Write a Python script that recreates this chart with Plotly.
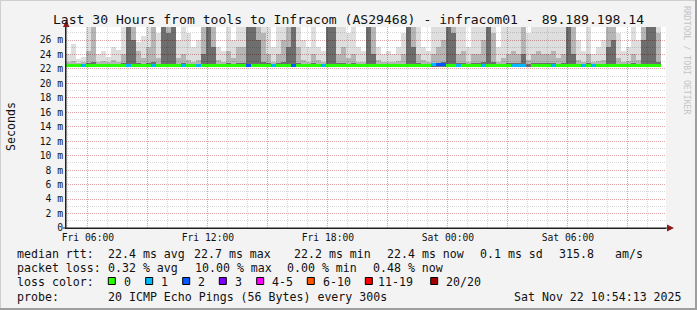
import pandas as pd
import plotly.graph_objects as go

# ---------------- data ----------------
start_time = "2025-11-21 04:54:13"
end_time = "2025-11-22 10:54:13"
step_minutes = 15

# smoke: top of light / medium / dark shade per 15-min column (ms)
smoke_hi = [
    24.0, 25.5, 23.4, 23.6, 30, 30, 24.1, 24.5, 23.6, 25.0,
    24.6, 30, 30, 30, 25.7, 26.5, 30, 30, 27.0, 30,
    30, 30, 26.0, 30, 27.0, 25.0, 26.0, 30, 30, 30,
    25.0, 24.5, 30, 26.0, 30, 28.0, 30, 30, 30, 30,
    30, 25.0, 30, 30, 30, 30, 30, 26.0, 25.0, 30,
    25.0, 24.5, 30, 30, 30, 30, 27.0, 30, 25.0, 24.5,
    30, 30, 25.0, 24.0, 24.5, 24.0, 25.0, 27.0, 30, 30,
    30, 25.0, 24.5, 30, 30, 30, 30, 30, 30, 30,
    25.0, 30, 30, 30, 30, 30, 25.0, 28.0, 30, 30,
    30, 30, 27.0, 30, 30, 30, 30, 30, 28.0, 30,
    30, 30, 26.0, 24.5, 30, 24.0, 25.0, 26.0, 30, 30,
    27.0, 24.5, 25.0, 30, 26.0, 30, 30, 30, 30, None,
]
smoke_mid = [
    22.9, 23.1, 22.8, 22.9, 24.5, 30, 23.0, 23.1, 22.9, 23.3,
    23.0, 24.0, 30, 30, 24.5, 23.5, 25.0, 28.0, 23.5, 30,
    30, 30, 23.5, 24.0, 23.2, 23.0, 23.3, 30, 30, 30,
    23.2, 23.0, 24.5, 23.5, 25.0, 25.0, 30, 30, 30, 27.0,
    24.0, 23.0, 24.0, 26.0, 30, 30, 25.0, 23.3, 23.0, 24.0,
    23.2, 23.0, 30, 30, 24.0, 25.0, 23.5, 24.0, 23.0, 23.0,
    30, 30, 23.2, 22.9, 23.0, 22.9, 23.1, 24.0, 30, 30,
    24.0, 23.2, 23.0, 24.0, 25.0, 26.0, 30, 30, 24.0, 24.5,
    23.0, 24.0, 24.0, 26.0, 30, 27.0, 23.0, 23.5, 24.0, 24.5,
    24.0, 30, 23.2, 24.0, 24.5, 24.0, 24.0, 24.5, 23.5, 24.0,
    30, 30, 23.3, 23.0, 24.0, 22.9, 23.1, 23.3, 30, 30,
    23.5, 23.0, 23.1, 24.0, 23.3, 30, 30, 30, 27.0, None,
]
smoke_dark = [
    22.6, 22.6, 22.6, 22.6, 22.8, 23.0, 22.6, 22.7, 22.6, 22.7,
    22.6, 22.8, 30, 26.0, 22.8, 22.7, 22.8, 23.0, 22.7, 30,
    27.0, 30, 22.7, 22.8, 22.6, 22.6, 22.7, 24.0, 30, 25.0,
    22.7, 22.6, 22.8, 22.7, 22.8, 22.8, 30, 30, 26.0, 23.0,
    22.8, 22.6, 22.8, 22.9, 25.0, 30, 22.8, 22.7, 22.6, 22.8,
    22.7, 22.6, 30, 30, 22.8, 22.8, 22.7, 22.8, 22.6, 22.6,
    30, 24.0, 22.7, 22.6, 22.6, 22.6, 22.6, 22.7, 30, 25.0,
    22.8, 22.7, 22.6, 22.8, 22.8, 22.9, 30, 27.0, 22.8, 22.8,
    22.6, 22.8, 22.8, 22.9, 30, 23.0, 22.6, 22.7, 22.8, 22.8,
    22.8, 24.0, 22.7, 22.8, 22.8, 22.8, 22.8, 22.8, 22.7, 22.8,
    30, 24.0, 22.7, 22.6, 22.8, 22.6, 22.6, 22.7, 25.0, 26.0,
    22.7, 22.6, 22.6, 22.8, 22.7, 26.0, 30, 30, 23.0, None,
]
median_rtt = [
    22.4, 22.4, 22.45, 22.4, 22.4, 22.35, 22.4, 22.4, 22.45, 22.4,
    22.4, 22.4, 22.45, 22.4, 22.4, 22.4, 22.35, 22.4, 22.4, 22.45,
    22.4, 22.4, 22.4, 22.35, 22.4, 22.4, 22.4, 22.45, 22.4, 22.4,
    22.35, 22.4, 22.4, 22.4, 22.4, 22.4, 22.45, 22.4, 22.4, 22.4,
    22.4, 22.4, 22.4, 22.45, 22.4, 22.45, 22.4, 22.35, 22.4, 22.4,
    22.4, 22.4, 22.45, 22.4, 22.4, 22.35, 22.4, 22.4, 22.4, 22.4,
    22.4, 22.35, 22.4, 22.4, 22.4, 22.35, 22.4, 22.4, 22.4, 22.4,
    22.4, 22.4, 22.45, 22.5, 22.5, 22.5, 22.45, 22.4, 22.4, 22.35,
    22.35, 22.4, 22.4, 22.35, 22.4, 22.4, 22.35, 22.35, 22.4, 22.35,
    22.35, 22.35, None, 22.35, 22.4, 22.35, 22.35, 22.4, 22.4, 22.4,
    22.4, 22.4, 22.35, 22.4, 22.4, 22.35, 22.4, 22.4, 22.4, 22.4,
    22.4, 22.4, 22.4, 22.4, 22.45, 22.4, 22.45, 22.45, 22.4, None,
]
loss_count = [
    0, 0, 0, 1, 0, 0, 0, 0, 0, 0,
    0, 0, 1, 0, 0, 0, 0, 1, 0, 0,
    0, 0, 0, 1, 0, 0, 1, 0, 0, 0,
    0, 0, 0, 0, 0, 0, 2, 0, 0, 0,
    0, 1, 0, 0, 0, 2, 0, 0, 0, 0,
    0, 1, 0, 0, 0, 0, 0, 0, 0, 0,
    0, 0, 0, 0, 0, 0, 0, 0, 0, 0,
    0, 0, 0, 1, 2, 2, 0, 0, 1, 0,
    0, 0, 0, 1, 0, 0, 0, 0, 0, 1,
    1, 1, 0, 0, 0, 0, 0, 1, 0, 0,
    0, 0, 0, 1, 0, 1, 0, 0, 0, 0,
    0, 0, 0, 0, 0, 0, 0, 0, 0, 0,
]

loss_labels = ["0", "1", "2", "3", "4-5", "6-10", "11-19", "20/20"]
loss_limits = [0, 1, 2, 3, 5, 10, 19, 20]
loss_colors = ["#26ff00", "#00b8ff", "#0059ff", "#7e00ff",
               "#ff00ff", "#ff5500", "#ff0000", "#a00000"]

y_tick_vals = list(range(0, 27, 2))
y_tick_text = ["0"] + [f"{v} m" for v in range(2, 27, 2)]

stats_lines = [
    [(16, "median rtt:"), (107.3, "22.4 ms avg"), (193.3, "22.7 ms max"),
     (293.3, "22.2 ms min"), (386, "22.4 ms now"), (479.3, "0.1 ms sd"),
     (558.3, "315.8"), (614, "am/s")],
    [(16, "packet loss:"), (107.3, "0.32 % avg"), (194.3, "10.00 % max"),
     (286, "0.00 % min"), (372.3, "0.48 % now")],
]
loss_swatch_x = [108.3, 145.7, 182.7, 219.3, 256.7, 307.3, 365.3, 430.7]
loss_label_x = [123.3, 160, 196.7, 234.3, 271, 321.7, 377.3, 445]
probe_text = "20 ICMP Echo Pings (56 Bytes) every 300s"
stamp_text = "Sat Nov 22 10:54:13 2025"
title_text = "Last 30 Hours from tools to Infracom (AS29468) - infracom01 - 89.189.198.14"

# ---------------- geometry ----------------
W, H = 697, 310
L, R, T, B = 66, 666, 27, 228
MONO = "DejaVu Sans Mono"


def px(x):
    return (x - L) / (R - L)


def py(y):
    return (B - y) / (B - T)


t0 = pd.Timestamp(start_time)
t1 = pd.Timestamp(end_time)
n = len(smoke_hi)
times = [t0 + pd.Timedelta(minutes=step_minutes * (i + 0.5)) for i in range(n)]
bar_w = step_minutes * 60 * 1000
smoke_base = 22.3

fig = go.Figure()


def seg(lo_list, hi_list, color):
    xs, bases, hs = [], [], []
    for t, lo, hi in zip(times, lo_list, hi_list):
        if lo is None or hi is None:
            continue
        if hi > lo:
            xs.append(t)
            bases.append(lo)
            hs.append(hi - lo)
    fig.add_trace(go.Bar(x=xs, y=hs, base=bases, width=bar_w,
                         marker=dict(color=color, line=dict(width=0)),
                         hoverinfo="skip", showlegend=False))


seg([smoke_base] * n, smoke_dark, "rgba(0,0,0,0.57)")
seg(smoke_dark, smoke_mid, "rgba(0,0,0,0.29)")
seg(smoke_mid, smoke_hi, "rgba(0,0,0,0.13)")


def loss_color(c):
    for lim, col in zip(loss_limits, loss_colors):
        if c <= lim:
            return col
    return loss_colors[-1]


mx, mb, mc = [], [], []
for t, m, c in zip(times, median_rtt, loss_count):
    if m is None:
        continue
    mx.append(t)
    mb.append(m - 0.14)
    mc.append(loss_color(c))
fig.add_trace(go.Bar(x=mx, y=[0.42] * len(mx), base=mb, width=bar_w,
                     marker=dict(color=mc, line=dict(width=0)),
                     hoverinfo="skip", showlegend=False))

# ---------------- axes ----------------
x_ticks = pd.date_range("2025-11-21 06:00", "2025-11-22 09:00", freq="3h")
x_text = [t.strftime("%a %H:%M") if t.hour % 6 == 0 else "" for t in x_ticks]

major_grid = "rgba(225,90,90,0.42)"
minor_grid = "rgba(140,140,140,0.32)"

fig.update_xaxes(
    type="date", range=[t0, t1],
    tickvals=list(x_ticks), ticktext=x_text, ticks="",
    showgrid=True, gridcolor=major_grid, griddash="1px,1px", gridwidth=1,
    minor=dict(dtick=3600000, tick0="2025-11-21 06:00", showgrid=True,
               gridcolor=minor_grid, griddash="1px,1px", gridwidth=1),
    showline=True, linecolor="#202020", linewidth=1,
    tickfont=dict(family=MONO, size=9.7, color="#111"),
    zeroline=False, layer="above traces", fixedrange=True,
)
fig.update_yaxes(
    range=[0, 27.8], tickvals=y_tick_vals, ticktext=y_tick_text, ticks="",
    showgrid=True, gridcolor=major_grid, griddash="1px,1px", gridwidth=1,
    minor=dict(dtick=1, showgrid=True, gridcolor=minor_grid,
               griddash="1px,1px", gridwidth=1),
    showline=True, linecolor="#202020", linewidth=1,
    tickfont=dict(family=MONO, size=9.7, color="#111"),
    zeroline=False, layer="above traces", fixedrange=True,
)

# ---------------- decorations ----------------
shapes = []
arrow_col = "#8b1a1a"
# y-axis extension + arrow
shapes.append(dict(type="line", xref="paper", yref="paper",
                   x0=px(66), x1=px(66), y0=py(228), y1=py(24),
                   line=dict(color="#202020", width=1)))
shapes.append(dict(type="path", xref="paper", yref="paper",
                   path=f"M {px(63)} {py(27)} L {px(69.5)} {py(27)} L {px(66.2)} {py(20)} Z",
                   fillcolor=arrow_col, line=dict(width=0)))
# x-axis extension + arrow
shapes.append(dict(type="line", xref="paper", yref="paper",
                   x0=px(63), x1=px(669), y0=py(228), y1=py(228),
                   line=dict(color="#202020", width=1)))
shapes.append(dict(type="path", xref="paper", yref="paper",
                   path=f"M {px(667)} {py(224.5)} L {px(667)} {py(231.5)} L {px(674)} {py(228)} Z",
                   fillcolor=arrow_col, line=dict(width=0)))
# frame shading
shapes.append(dict(type="rect", xref="paper", yref="paper",
                   x0=px(0), x1=px(W), y0=py(0), y1=py(1),
                   fillcolor="#cfcfcf", line=dict(width=0)))
shapes.append(dict(type="rect", xref="paper", yref="paper",
                   x0=px(0), x1=px(1), y0=py(0), y1=py(H),
                   fillcolor="#cfcfcf", line=dict(width=0)))
shapes.append(dict(type="rect", xref="paper", yref="paper",
                   x0=px(0), x1=px(W), y0=py(H - 2), y1=py(H),
                   fillcolor="#9e9e9e", line=dict(width=0)))
shapes.append(dict(type="rect", xref="paper", yref="paper",
                   x0=px(W - 2), x1=px(W), y0=py(0), y1=py(H),
                   fillcolor="#9e9e9e", line=dict(width=0)))
# loss colour swatches
for sx, col in zip(loss_swatch_x, loss_colors):
    shapes.append(dict(type="rect", xref="paper", yref="paper",
                       x0=px(sx), x1=px(sx + 7), y0=py(284.5), y1=py(277.5),
                       fillcolor=col, line=dict(color="#000", width=1)))

ann = []


def text_at(x, y, s, size=11.6, color="#111", anchor="left", angle=0):
    ann.append(dict(x=px(x), y=py(y), xref="paper", yref="paper",
                    text=s.replace(" ", "\u00a0"), showarrow=False,
                    xanchor=anchor, yanchor="middle", textangle=angle,
                    borderpad=0, font=dict(family=MONO, size=size, color=color)))


for row_y, row in zip([254, 268], stats_lines):
    for x, s in row:
        text_at(x, row_y, s)
text_at(16, 282, "loss color:")
for lx, lab in zip(loss_label_x, loss_labels):
    text_at(lx, 282, lab)
text_at(16, 296.5, "probe:")
text_at(107.3, 296.5, probe_text)
text_at(513.3, 296.5, stamp_text)

# y-axis title
text_at(11, 127, "Seconds", size=11.6, anchor="center", angle=-90)
# watermark
text_at(687, 60, "RRDTOOL / TOBI OETIKER", size=8.2, color="#c4c4c4",
        anchor="center", angle=90)

fig.update_layout(
    width=W, height=H,
    margin=dict(l=L, r=W - R, t=T, b=H - B, pad=0),
    paper_bgcolor="#f3f3f3", plot_bgcolor="#ffffff",
    barmode="overlay", bargap=0,
    showlegend=False,
    title=dict(text=title_text.replace(" ", "\u00a0"), x=0.5, xref="container",
               xanchor="center", y=1 - 19 / H, yref="container", yanchor="middle",
               font=dict(family=MONO, size=13.1, color="#111")),
    shapes=shapes, annotations=ann,
)

fig.write_html("out.html", config={"displayModeBar": False})
